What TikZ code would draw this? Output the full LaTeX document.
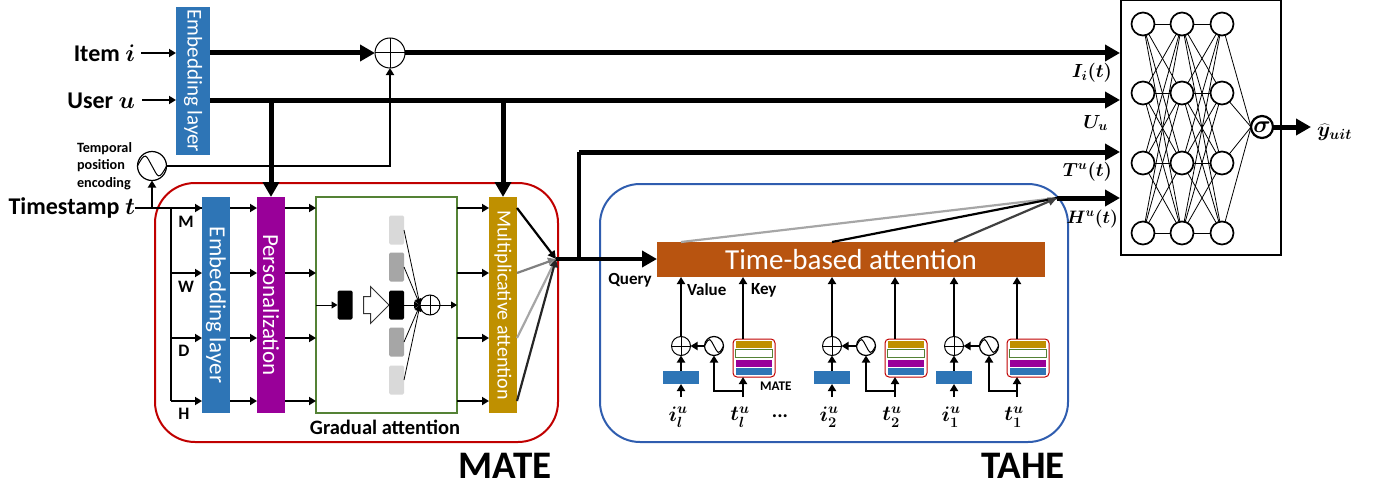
\documentclass[tikz,border=0pt]{standalone}
\usepackage{fix-cm}
\usepackage{fontspec}
\setmainfont{Carlito}
\usetikzlibrary{arrows.meta,shapes.arrows}
\definecolor{cblue}{HTML}{2E75B6}
\definecolor{cpurple}{HTML}{990099}
\definecolor{cgold}{HTML}{BF9000}
\definecolor{cgreen}{HTML}{548235}
\definecolor{cred}{HTML}{C00000}
\definecolor{cnavy}{HTML}{2F5DAF}
\definecolor{corange}{HTML}{B85410}
\newcommand{\fs}[1]{\fontsize{#1}{#1}\selectfont}
\newcommand{\bmm}[1]{{\boldmath$#1$}}
\tikzset{
  x=1pt,y=-1pt,
  bar/.style={rectangle,inner sep=0pt,outer sep=0pt,text=white},
  vbar/.style={bar,minimum width=28,minimum height=216},
  barlabel/.style={rotate=-90,font=\fs{23}},
  thin arrow/.style={line width=1.8,-{Triangle[length=7,width=8]}},
  hair arrow/.style={line width=1,-{Triangle[length=6,width=7]}},
  fat arrow/.style={line width=5,-{Triangle[length=15,width=16]}},
  plain link/.style={line width=1.8},
  fat link/.style={line width=5},
  opl/.style={circle,draw,line width=1,fill=white,inner sep=0,outer sep=0,minimum size=#1,
     path picture={\draw[line width=1] (path picture bounding box.north)--(path picture bounding box.south)
       (path picture bounding box.west)--(path picture bounding box.east);}},
  sine/.style={circle,draw,line width=1.2,fill=white,inner sep=0,outer sep=0,minimum size=#1,
     path picture={\draw[line width=1] (path picture bounding box.west)
       .. controls +(0.28*#1,-0.55*#1) and +(-0.2*#1,-0.35*#1) .. (path picture bounding box.center)
       .. controls +(0.2*#1,0.35*#1) and +(-0.28*#1,0.55*#1) .. (path picture bounding box.east);}},
  lab/.style={inner sep=0,outer sep=0,font=\bfseries\fs{24}},
  small/.style={inner sep=0,outer sep=0,font=\bfseries\fs{17}},
  rowlab/.style={inner sep=0,font=\bfseries\fs{17.5}},
  big/.style={inner sep=0,font=\bfseries\fs{39}},
  mth/.style={inner sep=0,outer sep=0,font=\fs{21}},
  neuron/.style={circle,draw,line width=1.7,fill=white,inner sep=0,outer sep=0,minimum size=23},
  edge/.style={line width=0.8},
  att/.style={rectangle,rounded corners=1.5,inner sep=0,outer sep=0,minimum width=15,minimum height=29},
  group/.style={draw,line width=2,rounded corners=40,minimum width=#1,inner sep=0,outer sep=0},
}
\begin{document}
\begin{tikzpicture}
\useasboundingbox (0,0) rectangle (1383,487);
% group frames
\node[group=403,draw=cred,minimum height=259] (mate) at (356.5,312.5) {};
\node[group=468,draw=cnavy,minimum height=258] (tahe) at (834,313) {};
% top-left inputs
\node[bar,fill=cblue,minimum width=34,minimum height=148] (emb) at (193,81) {};
\node[rotate=-90,font=\fs{21},text=white] (embt) at (193,81) {Embedding layer};
\node[lab,anchor=east] (item) at (135,53) {Item \bmm{i}};
\node[lab,anchor=east] (user) at (135,101) {User \bmm{u}};
\node[lab,anchor=east] (ts) at (135,208) {Timestamp \bmm{t}};
\node[opl=30] (plus) at (390,53) {};
\node[sine=29] (pos) at (152,166) {};
\node[inner sep=0,outer sep=0,align=left,anchor=west,font=\bfseries\fs{14.2}] (poslab) at (77,165)
  {\rule{0pt}{12pt}Temporal\\[3.5pt]position\\[3.5pt]encoding};
\coordinate (rM) at (0,208);
\coordinate (rW) at (0,273);
\coordinate (rD) at (0,338);
\coordinate (rH) at (0,401);
\coordinate (rG) at (0,305);
\coordinate (nI) at (1120,53);
\coordinate (nU) at (1120,100);
\coordinate (nT) at (1120,152);
\coordinate (nH) at (1120,198);
% MATE bars
\node[vbar,fill=cblue] (emb2) at (216,305) {};
\node[barlabel,text=white] at (216,305) {Embedding layer};
\node[vbar,fill=cpurple] (pers) at (271,305) {};
\node[barlabel,text=white] at (271,305) {Personalization};
\node[rectangle,draw=cgreen,line width=2.4,fill=white,inner sep=0,outer sep=0,minimum width=141,minimum height=216] (grad) at (386.5,305) {};
\node[vbar,fill=cgold] (mult) at (503,305) {};
\node[barlabel,text=white,font=\fs{20}] at (503,305) {Multiplicative attention};
\node[inner sep=0,font=\bfseries\fs{20.5}] (gradlab) at (385,427) {Gradual attention};
\node[rowlab] (lM) at (186,222) {M};
\node[rowlab] (lW) at (186,287) {W};
\node[rowlab] (lD) at (184,351) {D};
\node[rowlab] (lH) at (184,414) {H};
\node[big] (matelab) at (505,466) {MATE};
\node[big] (tahelab) at (1023,466) {TAHE};
% connectors of the inputs
\draw[thin arrow] (141,53) -- (emb.west |- item.east);
\draw[thin arrow] (142,100) -- (emb.west |- nU);
\draw[fat arrow] (emb.east |- plus) -- (plus.west);
\draw[fat arrow] (plus.east) -- (nI);
\draw[fat arrow] (emb.east |- nU) -- (nU);
\draw[fat arrow] (pers.north |- nU) -- (pers.north);
\draw[fat arrow] (mult.north |- nU) -- (mult.north);
\draw[plain link,-{Triangle[length=7,width=8]}] (pos.east) -| (plus.south);
\draw[plain link] (ts.east |- rM) -- (emb2.west |- rM);
\draw[thin arrow] (pos.south |- rM) -- (pos.south);
% rows
\coordinate (spine) at (171,208);
\draw[plain link] (spine) -- (spine |- rH);
\foreach \r in {M,W,D,H}{
  \draw[thin arrow] (spine |- r\r) -- (emb2.west |- r\r);
  \draw[thin arrow] (emb2.east |- r\r) -- (pers.west |- r\r);
  \draw[thin arrow] (pers.east |- r\r) -- (grad.west |- r\r);
  \draw[thin arrow] (grad.east |- r\r) -- (mult.west |- r\r);
}
% gradual attention detail
\node[att,fill=black] (q) at (345,305) {};
\node[single arrow,draw=black!80,line width=1,fill=white,inner sep=8,single arrow head extend=10,minimum height=25] (open) at (372,305) {};
\node[att,fill=black!15] (a1) at (396.5,230) {};
\node[att,fill=black!35] (a2) at (396.5,267) {};
\node[att,fill=black] (a3) at (396.5,305) {};
\node[att,fill=black!35] (a4) at (396.5,342) {};
\node[att,fill=black!15] (a5) at (396.5,380) {};
\node[opl=20] (gp) at (430,305) {};
\draw[hair arrow] (grad.west |- rG) -- (q.west);
\foreach \k in {1,2,4,5}{ \draw[hair arrow,line width=0.8] (a\k.east) -- (gp.west); }
\draw[hair arrow] (a3.east) -- (gp.west);
\draw[hair arrow] (gp.east) -- (grad.east |- rG);
% MATE output
\coordinate (junc) at (556,259);
\draw[line width=2.2,-{Triangle[length=8,width=8]},black] (mult.east |- rM) -- (junc);
\draw[line width=2.2,-{Triangle[length=8,width=8]},black!50] (mult.east |- rW) -- (junc);
\draw[line width=2.2,-{Triangle[length=8,width=8]},black!35] (mult.east |- rD) -- (junc);
\draw[line width=2.2,-{Triangle[length=8,width=8]},black!85] (mult.east |- rH) -- (junc);
% Time-based attention
\node[bar,fill=corange,minimum width=388,minimum height=35,font=\fs{29}] (tba) at (851,259.5) {Time-based attention};
\draw[fat arrow,line width=4] (junc) -- (tba.west |- junc);
\coordinate (bendT) at (579,152);
\draw[fat link,line width=4] (junc -| bendT) -- (bendT);
\draw[fat arrow] (bendT) -- (nT);
\coordinate (hin) at (1057,198);
\draw[fat arrow] (hin) -- (nH);
\coordinate (o1) at (681,242);
\coordinate (o2) at (832,242);
\coordinate (o3) at (954,242);
\draw[line width=2.2,black!35] (o1) -- (hin);
\draw[line width=2.2,black] (o2) -- (hin);
\draw[line width=2.2,-{Triangle[length=9,width=8]},black!75] (o3) -- (hin);
\node[small] (qlab) at (630,280) {Query};
\node[small,anchor=west] (vlab) at (687,290) {Value};
\node[small,anchor=west] (klab) at (751,290) {Key};
\node[small,anchor=west,font=\bfseries\fs{13.2}] (mlab) at (760,386) {MATE};
\node[inner sep=0,font=\bfseries\fs{20}] (dots) at (780,416) {...};
% TAHE columns
\foreach \n/\ox/\sx/\kx/\mx/\ix/\tx/\sub in {a/681/714/743/754/678/740/l,b/832/866/895/906/829/892/2,c/954/989/1017/1028/951/1014/1}{
  \node[opl=19] (op\n) at (\ox,346) {};
  \node[sine=19] (si\n) at (\sx,346) {};
  \node[bar,fill=cblue,minimum width=36,minimum height=13] (bl\n) at (\ox,377.5) {};
  \node[rectangle,draw=cred,line width=1,rounded corners=4,fill=white,inner sep=0,outer sep=0,minimum width=42,minimum height=38] (m\n) at (\mx,358) {};
  \node[bar,fill=cgold,minimum width=36,minimum height=7] (mg\n) at (\mx,344.5) {};
  \node[rectangle,draw=cgreen,line width=1.6,fill=white,inner sep=0,outer sep=0,minimum width=37,minimum height=8] (mw\n) at (\mx,353.5) {};
  \node[bar,fill=cpurple,minimum width=36,minimum height=7] (mp\n) at (\mx,363.5) {};
  \node[bar,fill=cblue,minimum width=36,minimum height=7] (mb\n) at (\mx,371.5) {};
  \node[mth] (il\n) at (\ix,417) {\bmm{i_{\sub}^{u}}};
  \node[mth] (tl\n) at (\tx,417) {\bmm{t_{\sub}^{u}}};
  \coordinate (kb\n) at (\kx,397);
  \coordinate (bend\n) at (\kx,391);
  \coordinate (ib\n) at (\ox,397);
  \draw[thin arrow] (op\n.north) -- (op\n.north |- tba.south);
  \draw[thin arrow] (kb\n |- m\n.north) -- (kb\n |- tba.south);
  \draw[thin arrow] (bl\n.north) -- (op\n.south);
  \draw[thin arrow] (ib\n) -- (bl\n.south);
  \draw[thin arrow] (si\n.west) -- (op\n.east);
  \draw[thin arrow] (kb\n) -- (kb\n |- m\n.south);
  \draw[plain link,-{Triangle[length=7,width=8]}] (bend\n) -| (si\n.south);
}
% network
\node[rectangle,draw,line width=1.2,inner sep=0,outer sep=0,minimum width=160,minimum height=255] (net) at (1201,127.5) {};
\foreach \c/\x in {1/1143,2/1182,3/1222}{
  \foreach \r/\y in {1/24,2/93,3/163,4/233}{
    \coordinate (p\c\r) at (\x,\y);
  }
}
\foreach \a in {1,2,3,4}{\foreach \b in {1,2,3,4}{
  \draw[edge] (p1\a) -- (p2\b);
  \draw[edge] (p2\a) -- (p3\b);
}}
\node[circle,draw,line width=2.2,fill=white,inner sep=0,outer sep=0,minimum size=22,font=\fs{24}] (sig) at (1262,127) {\bmm{\sigma}};
\foreach \r in {1,2,3,4}{ \draw[edge] (p3\r) -- (sig.west); }
\foreach \c in {1,2,3}{\foreach \r in {1,2,3,4}{
  \node[neuron] (n\c\r) at (p\c\r) {};
}}
\node[mth,anchor=west] (yhat) at (1317,132) {\bmm{\widehat{y}_{uit}}};
\coordinate (ytip) at (1311,127);
\draw[fat arrow] (sig.east) -- (ytip);
\node[mth,font=\fs{19},anchor=east] (lI) at (1112,73) {\bmm{I_{i}(t)}};
\node[mth,font=\fs{19},anchor=east] (lU) at (1108,123) {\bmm{U_{u}}};
\node[mth,font=\fs{19},anchor=east] (lT) at (1112,172) {\bmm{T^{u}(t)}};
\node[mth,font=\fs{18},anchor=east] (lHt) at (1118,219) {\bmm{H^{u}(t)}};
\end{tikzpicture}
\end{document}
